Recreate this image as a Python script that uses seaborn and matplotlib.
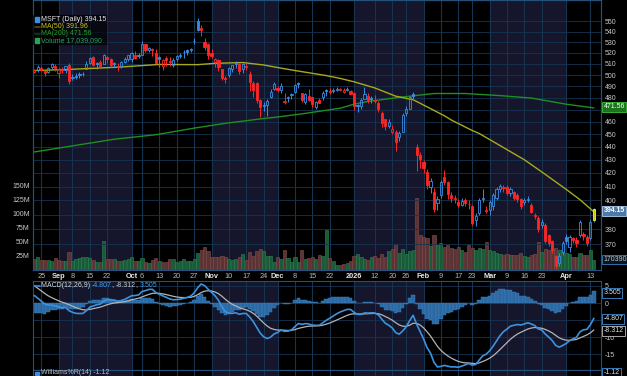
import numpy as np
import pandas as pd
import matplotlib
matplotlib.use("Agg")
import matplotlib.pyplot as plt
import matplotlib.ticker as mticker
import matplotlib.transforms as mtrans
from matplotlib.patches import Rectangle
import seaborn as sns

# ----------- Data (MSFT daily, 2025-08-21 .. 2026-04-14) -----------

holidays = ["2025-09-01", "2025-11-27", "2025-12-25", "2026-01-01",
            "2026-01-19", "2026-02-16", "2026-04-03"]

opens = [
    503.0, 504.5, 506.5, 503.5, 502.5, 507.0, 508.5, 502.0, 505.5, 504.5,
    509.0, 497.0, 499.0, 501.0, 500.5, 505.5, 511.0, 516.0, 510.5, 512.0,
    510.0, 516.0, 514.5, 510.5, 508.5, 508.0, 511.5, 514.8, 514.0, 518.5,
    517.5, 518.5, 528.0, 523.0, 523.5, 520.0, 516.5, 508.5, 515.5, 512.5,
    509.0, 514.5, 517.5, 521.0, 522.5, 522.5, 531.0, 550.0, 544.0, 530.5,
    528.5, 519.8, 511.8, 513.3, 505.4, 496.9, 500.0, 505.0, 509.5, 510.3,
    505.5, 508.5, 501.0, 493.0, 493.0, 478.5, 473.0, 474.1, 481.0, 487.6,
    488.4, 486.5, 476.3, 479.8, 482.5, 484.9, 492.0, 484.0, 476.9, 481.5,
    480.5, 472.0, 478.5, 480.5, 487.0, 486.0, 486.0, 486.5, 486.7, 485.4,
    486.5, 486.0, 484.4, 474.0, 473.0, 479.5, 482.0, 479.5, 478.0, 476.0,
    467.5, 462.0, 457.0, 451.5, 452.0, 447.5, 452.0, 467.0, 471.0, 483.0,
    439.5, 434.0, 428.0, 421.0, 410.0, 406.0, 398.0, 404.0, 417.0, 413.0,
    404.0, 402.0, 399.0, 397.0, 400.0, 397.5, 396.0, 386.0, 391.0, 401.0,
    393.5, 393.0, 396.0, 402.0, 408.0, 410.0, 409.5, 405.0, 406.0, 404.0,
    401.0, 399.0, 400.0, 397.0, 390.0, 388.0, 383.0, 383.0, 376.0, 372.0,
    362.0, 358.0, 365.0, 375.0, 368.0, 374.0, 373.0, 376.0, 377.0, 375.0,
    374.0, 386.0,
]
highs = [
    505.5, 509.0, 508.0, 504.5, 507.5, 511.0, 509.5, 506.0, 507.0, 508.5,
    511.0, 501.0, 501.5, 502.5, 503.0, 512.5, 516.5, 517.5, 511.5, 513.5,
    519.5, 517.5, 515.5, 512.0, 510.5, 513.0, 516.5, 518.5, 520.5, 521.5,
    520.0, 531.0, 528.5, 526.0, 525.0, 523.5, 516.8, 514.5, 517.0, 516.5,
    515.5, 518.5, 520.0, 523.0, 523.5, 525.0, 534.0, 553.7, 546.5, 534.5,
    529.0, 524.0, 515.5, 514.8, 505.8, 499.4, 506.9, 509.0, 513.0, 511.0,
    511.0, 511.0, 504.0, 494.5, 493.5, 478.9, 476.5, 479.0, 488.0, 493.5,
    489.9, 493.0, 484.0, 481.3, 484.0, 492.0, 494.0, 484.3, 484.5, 488.0,
    480.8, 477.5, 480.0, 486.0, 488.0, 488.5, 489.0, 489.5, 489.0, 489.0,
    489.5, 486.5, 484.7, 475.0, 480.0, 489.5, 484.5, 482.0, 482.5, 477.5,
    469.0, 462.5, 462.0, 457.5, 453.0, 452.5, 467.0, 473.0, 482.0, 485.5,
    442.5, 436.0, 430.0, 423.0, 416.0, 409.0, 403.0, 415.0, 422.0, 414.0,
    406.0, 404.0, 401.0, 402.0, 402.0, 400.0, 397.0, 391.0, 402.0, 408.0,
    396.0, 400.0, 405.0, 410.0, 412.0, 411.0, 411.0, 410.0, 407.0, 405.0,
    402.0, 402.0, 403.0, 398.0, 391.0, 389.0, 387.0, 384.0, 377.0, 373.0,
    363.0, 364.0, 372.0, 377.0, 376.0, 375.0, 375.0, 386.0, 378.0, 376.0,
    386.0, 394.6,
]
lows = [
    501.5, 502.5, 503.5, 499.5, 501.5, 505.5, 504.0, 497.5, 502.0, 502.0,
    492.0, 496.0, 496.5, 497.5, 499.0, 505.0, 509.5, 508.0, 505.0, 507.0,
    509.5, 511.0, 507.5, 507.0, 504.0, 506.5, 510.5, 512.5, 511.5, 514.5,
    515.0, 518.0, 521.0, 521.0, 517.5, 510.0, 507.5, 504.5, 508.0, 508.5,
    507.5, 513.0, 515.0, 515.5, 518.5, 520.5, 528.5, 540.5, 536.0, 522.5,
    514.5, 515.0, 507.0, 504.0, 495.8, 493.0, 498.0, 502.3, 506.5, 501.0,
    502.0, 504.5, 486.0, 480.5, 475.5, 464.0, 469.0, 464.9, 480.0, 486.5,
    484.7, 484.0, 475.0, 476.5, 479.5, 484.0, 489.0, 476.5, 475.0, 477.0,
    472.5, 471.0, 476.0, 478.0, 482.0, 483.0, 484.5, 486.0, 486.0, 484.5,
    486.0, 483.5, 470.0, 468.0, 471.0, 479.0, 475.5, 475.5, 476.0, 468.0,
    456.0, 453.5, 455.0, 450.0, 437.0, 444.5, 451.5, 465.0, 470.5, 478.5,
    421.5, 424.0, 420.0, 408.0, 405.0, 392.0, 393.0, 402.0, 411.0, 401.0,
    399.0, 398.0, 395.0, 396.0, 396.0, 394.0, 383.0, 382.0, 390.0, 399.0,
    391.0, 390.0, 393.0, 400.0, 406.0, 406.0, 404.0, 403.0, 400.0, 399.0,
    394.0, 397.0, 399.0, 391.0, 387.0, 378.0, 381.0, 371.0, 369.0, 364.0,
    354.0, 356.0, 363.0, 370.0, 365.0, 371.0, 368.0, 375.0, 373.0, 369.0,
    373.0, 385.0,
]
closes = [
    504.2, 507.2, 504.3, 502.0, 506.7, 509.6, 506.7, 505.1, 504.2, 508.0,
    495.0, 498.2, 498.4, 500.4, 501.0, 509.9, 515.4, 509.0, 510.0, 508.5,
    517.9, 514.5, 509.2, 510.2, 507.0, 511.5, 514.6, 518.0, 519.7, 515.7,
    517.4, 528.6, 523.0, 524.9, 522.4, 511.0, 514.1, 513.6, 513.4, 511.6,
    513.6, 516.8, 517.7, 520.5, 520.6, 523.6, 531.5, 542.1, 541.6, 525.8,
    517.8, 517.0, 514.3, 507.2, 497.1, 496.8, 506.0, 508.7, 511.1, 503.3,
    510.2, 507.5, 493.8, 487.1, 478.4, 472.1, 474.0, 477.0, 485.5, 492.0,
    486.7, 490.0, 477.7, 480.8, 483.2, 491.0, 492.0, 478.6, 483.5, 478.5,
    474.8, 476.4, 476.1, 484.0, 485.9, 484.9, 486.9, 488.0, 487.7, 487.1,
    487.5, 483.6, 472.9, 472.9, 478.5, 483.5, 478.1, 479.3, 477.2, 470.7,
    459.4, 456.7, 459.9, 454.5, 444.1, 451.1, 466.0, 470.3, 480.6, 481.6,
    433.5, 430.3, 423.4, 411.2, 414.2, 393.7, 401.1, 413.6, 413.3, 404.4,
    401.8, 401.3, 396.9, 399.6, 398.5, 397.2, 384.5, 389.0, 400.6, 401.7,
    392.7, 398.6, 403.9, 408.0, 410.7, 409.0, 405.5, 408.0, 401.5, 401.0,
    396.0, 400.5, 401.0, 392.0, 389.0, 380.0, 385.0, 372.0, 371.0, 366.0,
    356.0, 362.0, 371.0, 372.0, 375.0, 372.5, 371.0, 385.0, 375.5, 370.5,
    385.0, 394.15,
]
volumes_m = [
    19.5, 24.0, 17.5, 17.0, 17.7, 16.0, 20.8, 18.1, 15.3, 15.7,
    31.9, 16.8, 19.7, 21.1, 23.3, 23.9, 20.8, 17.0, 14.8, 15.0,
    52.5, 20.0, 19.8, 19.6, 16.3, 16.0, 17.4, 19.7, 22.6, 15.6,
    15.7, 21.7, 14.6, 13.3, 18.3, 21.6, 16.0, 14.7, 14.9, 18.8,
    19.4, 14.7, 15.6, 18.9, 15.5, 15.5, 18.9, 29.9, 36.0, 41.0,
    34.0, 22.4, 22.9, 24.0, 24.2, 24.0, 19.8, 17.8, 19.4, 24.1,
    28.5, 18.6, 33.0, 24.6, 33.6, 38.0, 34.1, 25.0, 25.7, 14.1,
    23.9, 19.6, 35.0, 22.2, 13.6, 22.4, 14.6, 35.3, 19.5, 21.2,
    23.6, 20.3, 26.2, 24.3, 70.8, 21.6, 15.4, 8.5, 9.2, 10.9,
    13.2, 15.5, 25.6, 29.1, 23.9, 20.4, 18.4, 23.3, 24.7, 21.6,
    28.2, 23.9, 34.0, 37.9, 46.8, 30.8, 37.0, 29.4, 34.5, 36.0,
    128.9, 62.1, 58.6, 56.7, 43.0, 62.3, 45.0, 48.6, 40.6, 43.8,
    40.1, 37.4, 41.0, 35.5, 32.0, 45.0, 40.0, 36.0, 40.0, 38.0,
    50.0, 35.0, 34.0, 31.0, 29.0, 27.0, 28.0, 26.0, 27.0, 26.0,
    30.0, 25.0, 24.0, 27.0, 29.0, 50.0, 33.0, 38.0, 35.0, 37.0,
    40.0, 36.0, 32.0, 30.0, 28.0, 24.0, 23.0, 30.0, 26.0, 27.0,
    35.0, 17.04,
]
prev_close_start = 505.7

# moving averages (day index, value)
ma50_days = [0, 10, 24, 36, 47, 52, 60, 66, 70, 75, 78, 84, 88, 92, 98,
             104, 109, 114, 118, 120, 126, 128, 134, 141, 147, 153, 157, 161]
ma50_vals = [504.0, 505.0, 507.0, 509.5, 509.3, 510.5, 511.2, 509.0, 506.7,
             504.0, 502.5, 499.5, 497.0, 494.0, 488.6, 481.5, 478.5, 471.0,
             465.0, 461.5, 453.0, 450.6, 441.0, 430.0, 419.0, 408.0, 400.5,
             391.96]
ma200_days = [0, 23, 35, 46, 55, 65, 70, 78, 88, 92, 96, 105, 115, 124,
              134, 143, 153, 161]
ma200_vals = [436.0, 446.0, 449.6, 454.9, 458.8, 462.4, 464.0, 467.0, 471.3,
              474.7, 477.0, 480.5, 483.8, 483.8, 482.0, 479.9, 474.7, 471.56]

# MACD(12,26,9) EMA state just before the first bar
ema_fast_start, ema_slow_start, signal_start = 517.0, 513.5, 5.8

tick_dates = ["2025-08-25", "2025-09-02", "2025-09-08", "2025-09-15",
              "2025-09-22", "2025-10-01", "2025-10-06", "2025-10-13",
              "2025-10-20", "2025-10-27", "2025-11-03", "2025-11-10",
              "2025-11-17", "2025-11-24", "2025-12-01", "2025-12-08",
              "2025-12-15", "2025-12-22", "2026-01-02", "2026-01-12",
              "2026-01-20", "2026-01-26", "2026-02-02", "2026-02-09",
              "2026-02-17", "2026-02-23", "2026-03-02", "2026-03-09",
              "2026-03-16", "2026-03-23", "2026-04-01", "2026-04-13"]
tick_labels = ["25", "Sep", "8", "15", "22", "Oct", "6", "13", "20", "27",
               "Nov", "10", "17", "24", "Dec", "8", "15", "22", "2026", "12",
               "20", "26", "Feb", "9", "17", "23", "Mar", "9", "16", "23",
               "Apr", "13"]
shaded_months = ["2025-09", "2025-11", "2026-01", "2026-03"]

price_ticks = list(range(370, 551, 10))
price_hidden = [390, 470]          # covered by the value boxes
volume_ticks = [25, 50, 75, 100, 125, 150]
macd_ticks = [5, 0, -5, -10, -15]
macd_hidden = [-5]

# ----------- Derived -----------

dates = pd.bdate_range("2025-08-21", "2026-04-14")
dates = dates[~dates.isin(pd.to_datetime(holidays))]
n = len(dates)
x = np.arange(n)
o, h, l, c = map(np.array, (opens, highs, lows, closes))
prev = np.r_[prev_close_start, c[:-1]]
up_day = c >= prev

tick_pos = dates.get_indexer(pd.to_datetime(tick_dates))
months = dates.to_period("M").astype(str)
month_first = {m: int(np.argmax(months == m)) for m in pd.unique(months)}
month_keys = list(month_first.keys())

ema_f, ema_s, sig = ema_fast_start, ema_slow_start, signal_start
macd, signal = [], []
for v in c:
    ema_f += (v - ema_f) * 2 / 13
    ema_s += (v - ema_s) * 2 / 27
    m = ema_f - ema_s
    sig += (m - sig) * 2 / 10
    macd.append(m)
    signal.append(sig)
macd, signal = np.array(macd), np.array(signal)
hist = macd - signal

# ----------- Style -----------

sns.set_theme(style="dark", rc={"axes.facecolor": "black",
                                "figure.facecolor": "black"})
plt.rcParams["font.family"] = ["Liberation Sans", "DejaVu Sans"]

BLUE = "#3a8ee6"
RED = "#ff2626"
SHADE = "#15152c"
GRID = "#16334f"
SPINE = "#24507a"
TXT = "#c8c8c8"

W_PX, H_PX = 627, 376


def fx(px):
    return px / W_PX


def fy(py):
    return 1 - py / H_PX


fig = plt.figure(figsize=(6.27, 3.76), dpi=100, facecolor="black")
left, right = fx(32.5), fx(600.7)
xlim = (-0.5, -0.5 + 568.2 / 3.476)

axv = fig.add_axes([left, fy(270), right - left, fy(0) - fy(270)])
axp = axv.twinx()
axm = fig.add_axes([left, fy(370), right - left, fy(281) - fy(370)])
axw = fig.add_axes([left, fy(450), right - left, fy(370) - fy(450)])

for ax in (axv, axm, axw):
    ax.set_facecolor("black")
    ax.set_xlim(*xlim)
    for i, mk in enumerate(month_keys):
        if mk in shaded_months:
            start = month_first[mk]
            end = month_first[month_keys[i + 1]] if i + 1 < len(month_keys) else n
            ax.axvspan(start, end, color=SHADE, lw=0, zorder=0)
    for tp in tick_pos:
        ax.axvline(tp, color=GRID, lw=0.8, zorder=0.5)
    ax.set_xticks([])
    ax.grid(False)

for ax in (axv, axp, axm, axw):
    for s in ax.spines.values():
        s.set_color(SPINE)
        s.set_linewidth(0.8)

# ----------- Volume -----------

vol_face = np.where(up_day, "#1a5a38", "#5a3434")
vol_edge = np.where(up_day, "#2a8a55", "#8a4e4e")
axv.bar(x, volumes_m, width=0.9, color=vol_face, edgecolor=vol_edge,
        linewidth=0.4, zorder=1)
axv.set_ylim(0, 270 / 0.56)
axv.set_yticks(volume_ticks)
axv.set_yticklabels([f"{v}M" for v in volume_ticks])
axv.tick_params(axis="y", colors=TXT, labelsize=5, length=0, pad=2)

# ----------- Price -----------

axp.set_yscale("log")
axp.set_ylim(353.4, 571.4)
axp.set_xlim(*xlim)
axp.yaxis.set_major_locator(mticker.FixedLocator(price_ticks))
axp.yaxis.set_major_formatter(mticker.FuncFormatter(
    lambda v, _: "" if round(v) in price_hidden else f"{v:.0f}"))
axp.yaxis.set_minor_locator(mticker.NullLocator())
axp.tick_params(axis="y", colors=TXT, labelsize=5, length=0, pad=3)
axp.grid(False)
for pt in price_ticks:
    axp.axhline(pt, color=GRID, lw=0.6, zorder=0.5)

sns.lineplot(x=ma200_days, y=ma200_vals, ax=axp, color="#1f8f1f", lw=1.0, zorder=2)
sns.lineplot(x=ma50_days, y=ma50_vals, ax=axp, color="#a9a91c", lw=1.0, zorder=2)

col = np.where(up_day, BLUE, RED)
lo_b, hi_b = np.minimum(o, c), np.maximum(o, c)
hollow = c > o
axp.vlines(x, hi_b, h, colors=col, lw=0.7, zorder=3)
axp.vlines(x, l, lo_b, colors=col, lw=0.7, zorder=3)
faces = [("none" if hol else cc) for hol, cc in zip(hollow, col)]
faces[-1] = "#c8c800"
edges = list(col)
edges[-1] = "#f0f070"
axp.bar(x, np.maximum(hi_b - lo_b, 0.5), bottom=lo_b, width=0.62,
        color=faces, edgecolor=edges, linewidth=0.6, zorder=4)

# legend box
fig.patches.append(Rectangle((fx(33), fy(44)), fx(106) - fx(33), fy(15) - fy(44),
                             transform=fig.transFigure, color="black",
                             alpha=0.6, zorder=5))
legend_rows = [("MSFT (Daily) 394.15", "#e8e8e8", BLUE),
               ("MA(50) 391.96", "#c8c81e", "#c8c81e"),
               ("MA(200) 471.56", "#22a022", "#22a022"),
               ("Volume 17,039,090", "#2ea05a", "#2ea05a")]
for k, (txt, tc, ic) in enumerate(legend_rows):
    py = 19.5 + 7 * k
    fig.text(fx(41), fy(py), txt, color=tc, fontsize=5, va="center",
             ha="left", zorder=6)
    if k == 0 or k == 3:
        fig.patches.append(Rectangle((fx(35), fy(py + 2)), fx(4), fy(0) - fy(4.5),
                                     transform=fig.transFigure, color=ic, zorder=6))
    else:
        fig.lines.append(plt.Line2D([fx(34.5), fx(39.5)], [fy(py), fy(py)],
                                    transform=fig.transFigure, color=ic, lw=1.2))


def value_box(py, txt, face, edge, tcol, bold=False):
    fig.text(fx(603.5), fy(py), txt, color=tcol, fontsize=5, va="center",
             ha="left", fontweight="bold" if bold else "normal", zorder=7,
             bbox=dict(boxstyle="square,pad=0.15", fc=face, ec=edge, lw=0.6))


value_box(107, "471.56", "#1b741b", "#3fbf3f", "white")
value_box(211, "394.15", "#4d79a8", "#b0d0f0", "white", bold=True)
value_box(259.5, "170390", "#071522", "#3d7fbf", TXT)

# ----------- Date labels -----------

trans = mtrans.blended_transform_factory(axv.transData, fig.transFigure)
for tp, lab in zip(tick_pos, tick_labels):
    is_month = not lab.isdigit() or lab == "2026"
    fig.text(tp, fy(276), lab, transform=trans, ha="center", va="center",
             fontsize=5.3, color="#e6e6e6" if is_month else "#b8b8b8",
             fontweight="bold" if is_month else "normal")

# ----------- MACD -----------

axm.bar(x, hist, width=1.0, color="#2c67a0", edgecolor="#3d84c4",
        linewidth=0.3, zorder=1)
sns.lineplot(x=x, y=signal, ax=axm, color="#b4b4b4", lw=0.9, zorder=2)
sns.lineplot(x=x, y=macd, ax=axm, color="#3b93e0", lw=1.2, zorder=3)
axm.set_ylim(-19.7, 6.47)
axm.set_xlim(*xlim)
axm.yaxis.tick_right()
axm.set_yticks(macd_ticks)
axm.set_yticklabels(["" if t in macd_hidden else str(t) for t in macd_ticks])
axm.tick_params(axis="y", colors=TXT, labelsize=5, length=0, pad=3)
for t in macd_ticks:
    axm.axhline(t, color=GRID, lw=0.6, zorder=0.5)
for ax in (axm, axp, axv):
    ax.set_xlabel("")
    ax.set_ylabel("")

renderer = fig.canvas.get_renderer()


def seg_text(px, py, parts, size=5):
    for s, tc in parts:
        t = fig.text(fx(px), fy(py), s, color=tc, fontsize=size,
                     va="center", ha="left", zorder=6)
        px += t.get_window_extent(renderer=renderer).width


fig.lines.append(plt.Line2D([fx(34.5), fx(39.5)], [fy(285.5), fy(285.5)],
                            transform=fig.transFigure, color=BLUE, lw=1.2))
seg_text(41, 285.5, [("MACD(12,26,9) ", "#dcdcdc"), ("-4.807", "#4a9be8"),
                     (", ", "#dcdcdc"), ("-8.312", "#c8c8c8"),
                     (", ", "#dcdcdc"), ("3.505", "#4a9be8")])
value_box(293, "3.505", "black", "#3d8fd8", "#e0e0e0")
value_box(319, "-4.807", "black", "#3d8fd8", "#e0e0e0")
value_box(331, "-8.312", "black", "#c0c0c0", "#e0e0e0")

# ----------- Williams %R (cut off at the bottom) -----------

axw.set_yticks([])
fig.patches.append(Rectangle((fx(35), fy(375)), fx(4), fy(0) - fy(3.5),
                             transform=fig.transFigure, color=BLUE, zorder=6))
seg_text(41, 373, [("Williams%R(14) -1.12", "#bdbdbd")])
value_box(372.5, "-1.12", "black", "#3d8fd8", "#e0e0e0")

fig.savefig("out.png", dpi=100, facecolor="black")
